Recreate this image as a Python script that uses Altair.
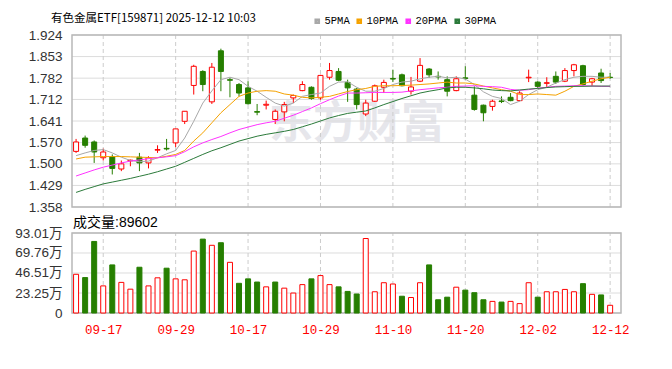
import altair as alt
import pandas as pd

TITLE = "有色金属ETF[159871] 2025-12-12 10:03"
WATERMARK = "东方财富"
VOL_LABEL = "成交量"
current_volume = 89602

dates = ["2025-09-12", "2025-09-15", "2025-09-16", "2025-09-17", "2025-09-18", "2025-09-19",
         "2025-09-22", "2025-09-23", "2025-09-24", "2025-09-25", "2025-09-26", "2025-09-29",
         "2025-09-30", "2025-10-09", "2025-10-10", "2025-10-13", "2025-10-14", "2025-10-15",
         "2025-10-16", "2025-10-17", "2025-10-20", "2025-10-21", "2025-10-22", "2025-10-23",
         "2025-10-24", "2025-10-27", "2025-10-28", "2025-10-29", "2025-10-30", "2025-10-31",
         "2025-11-03", "2025-11-04", "2025-11-05", "2025-11-06", "2025-11-07", "2025-11-10",
         "2025-11-11", "2025-11-12", "2025-11-13", "2025-11-14", "2025-11-17", "2025-11-18",
         "2025-11-19", "2025-11-20", "2025-11-21", "2025-11-24", "2025-11-25", "2025-11-26",
         "2025-11-27", "2025-11-28", "2025-12-01", "2025-12-02", "2025-12-03", "2025-12-04",
         "2025-12-05", "2025-12-08", "2025-12-09", "2025-12-10", "2025-12-11", "2025-12-12"]

opens = [1.541, 1.585, 1.572, 1.520, 1.524, 1.483, 1.510, 1.522, 1.503, 1.545,
         1.551, 1.569, 1.640, 1.758, 1.804, 1.704, 1.872, 1.777, 1.761, 1.750,
         1.672, 1.693, 1.646, 1.671, 1.717, 1.741, 1.752, 1.717, 1.785, 1.804,
         1.768, 1.746, 1.664, 1.706, 1.752, 1.781, 1.793, 1.739, 1.772, 1.812,
         1.788, 1.777, 1.741, 1.783, 1.726, 1.693, 1.689, 1.707, 1.719, 1.708,
         1.783, 1.769, 1.765, 1.788, 1.772, 1.807, 1.823, 1.769, 1.799, 1.785]
highs = [1.582, 1.593, 1.577, 1.550, 1.531, 1.511, 1.514, 1.536, 1.525, 1.561,
         1.582, 1.615, 1.673, 1.826, 1.808, 1.832, 1.879, 1.783, 1.766, 1.772,
         1.697, 1.708, 1.679, 1.704, 1.728, 1.772, 1.755, 1.793, 1.832, 1.815,
         1.777, 1.750, 1.711, 1.761, 1.777, 1.810, 1.797, 1.786, 1.848, 1.815,
         1.804, 1.788, 1.788, 1.821, 1.755, 1.695, 1.711, 1.722, 1.733, 1.739,
         1.810, 1.772, 1.785, 1.804, 1.815, 1.829, 1.826, 1.783, 1.813, 1.799]
lows = [1.536, 1.553, 1.503, 1.511, 1.465, 1.476, 1.492, 1.476, 1.485, 1.536,
        1.544, 1.555, 1.631, 1.728, 1.739, 1.697, 1.739, 1.719, 1.722, 1.695,
        1.660, 1.679, 1.631, 1.640, 1.700, 1.739, 1.711, 1.711, 1.777, 1.772,
        1.704, 1.679, 1.657, 1.704, 1.733, 1.769, 1.755, 1.728, 1.769, 1.783,
        1.777, 1.722, 1.739, 1.777, 1.675, 1.640, 1.675, 1.700, 1.706, 1.706,
        1.769, 1.750, 1.752, 1.763, 1.769, 1.788, 1.757, 1.757, 1.766, 1.780]
closes = [1.572, 1.561, 1.539, 1.539, 1.485, 1.500, 1.512, 1.503, 1.520, 1.547,
          1.549, 1.615, 1.673, 1.821, 1.761, 1.818, 1.804, 1.775, 1.733, 1.698,
          1.670, 1.696, 1.673, 1.695, 1.725, 1.761, 1.715, 1.791, 1.807, 1.775,
          1.750, 1.695, 1.700, 1.757, 1.768, 1.779, 1.757, 1.753, 1.824, 1.793,
          1.786, 1.739, 1.780, 1.781, 1.679, 1.668, 1.706, 1.705, 1.708, 1.733,
          1.785, 1.755, 1.767, 1.769, 1.807, 1.826, 1.761, 1.780, 1.774, 1.784]

# volume in 万 (10k shares); 1 = red (up) bar, 0 = green (down) bar
volumes = [45.0, 41.2, 83.2, 31.5, 55.9, 35.6, 27.7, 53.2, 31.5, 40.9,
           52.1, 39.7, 38.6, 72.0, 85.9, 78.7, 81.7, 58.9, 34.5, 39.7,
           36.0, 30.4, 36.0, 28.9, 23.2, 33.0, 39.7, 43.5, 33.0, 30.4,
           25.1, 22.1, 86.6, 24.7, 35.2, 33.7, 19.5, 18.0, 35.2, 55.9,
           15.4, 18.4, 30.0, 26.6, 23.6, 15.4, 13.5, 12.7, 13.5, 10.9,
           35.2, 18.4, 24.7, 24.7, 27.4, 24.7, 34.1, 21.7, 21.0, 8.96]
vol_up = [1, 0, 0, 1, 0, 1, 1, 0, 1, 1,
          0, 1, 1, 1, 0, 1, 0, 1, 0, 0,
          0, 1, 0, 1, 1, 1, 0, 1, 1, 0,
          0, 0, 1, 1, 1, 1, 0, 1, 1, 0,
          0, 0, 1, 0, 0, 0, 1, 0, 1, 1,
          1, 0, 1, 1, 1, 1, 0, 1, 0, 1]

ma5 = [1.527, 1.536, 1.544, 1.547, 1.536, 1.522, 1.511, 1.507, 1.509, 1.520,
       1.533, 1.544, 1.585, 1.640, 1.700, 1.740, 1.777, 1.785, 1.777, 1.755,
       1.739, 1.719, 1.700, 1.690, 1.700, 1.722, 1.728, 1.733, 1.755, 1.769,
       1.770, 1.752, 1.739, 1.739, 1.748, 1.761, 1.769, 1.772, 1.780, 1.785,
       1.788, 1.783, 1.785, 1.779, 1.761, 1.737, 1.722, 1.715, 1.695, 1.706,
       1.728, 1.744, 1.752, 1.766, 1.777, 1.785, 1.788, 1.788, 1.785, 1.785]
ma10 = [1.516, 1.522, 1.523, 1.524, 1.524, 1.524, 1.523, 1.522, 1.521, 1.520,
        1.525, 1.531, 1.544, 1.575, 1.602, 1.635, 1.668, 1.695, 1.722, 1.733,
        1.739, 1.741, 1.739, 1.730, 1.726, 1.719, 1.717, 1.719, 1.722, 1.730,
        1.738, 1.744, 1.748, 1.755, 1.757, 1.757, 1.758, 1.759, 1.761, 1.763,
        1.766, 1.769, 1.766, 1.766, 1.763, 1.756, 1.750, 1.744, 1.739, 1.728,
        1.728, 1.730, 1.728, 1.726, 1.739, 1.755, 1.763, 1.772, 1.780, 1.785]
ma20 = [1.460, 1.470, 1.480, 1.489, 1.496, 1.503, 1.509, 1.513, 1.517, 1.520,
        1.523, 1.527, 1.540, 1.556, 1.569, 1.580, 1.590, 1.602, 1.613, 1.621,
        1.629, 1.635, 1.640, 1.650, 1.660, 1.672, 1.684, 1.698, 1.711, 1.723,
        1.733, 1.733, 1.734, 1.735, 1.735, 1.735, 1.736, 1.740, 1.744, 1.747,
        1.750, 1.752, 1.755, 1.756, 1.757, 1.755, 1.754, 1.752, 1.745, 1.742,
        1.744, 1.749, 1.752, 1.755, 1.756, 1.757, 1.757, 1.756, 1.755, 1.755]
ma30 = [1.406, 1.416, 1.425, 1.434, 1.440, 1.446, 1.452, 1.459, 1.466, 1.474,
        1.483, 1.492, 1.505, 1.518, 1.531, 1.543, 1.553, 1.564, 1.575, 1.583,
        1.591, 1.597, 1.602, 1.607, 1.613, 1.622, 1.631, 1.641, 1.651, 1.659,
        1.666, 1.670, 1.674, 1.684, 1.695, 1.705, 1.715, 1.724, 1.733, 1.739,
        1.744, 1.750, 1.752, 1.752, 1.750, 1.747, 1.743, 1.741, 1.740, 1.743,
        1.746, 1.748, 1.751, 1.753, 1.754, 1.755, 1.755, 1.756, 1.756, 1.756]

ma_names = ["5PMA", "10PMA", "20PMA", "30PMA"]
ma_colors = ["#a8a8a8", "#f5a200", "#ff33ff", "#2b7a3a"]

price_ticks = [1.358, 1.429, 1.500, 1.570, 1.641, 1.712, 1.782, 1.853, 1.924]
vol_ticks = [0, 23.25, 46.51, 69.76, 93.01]
tick_idx = [3, 11, 19, 27, 35, 43, 51, 59]

RED = "#ff0000"
GREEN = "#267f00"
GRID = "#dcdcdc"
FRAME = "#b8b8b8"

# ---------------- layout helpers ----------------
W, H = 559, 278
X_DOMAIN = [-0.45, 60.2]
P_DOMAIN = [price_ticks[0], price_ticks[-1]]
V_DOMAIN = [vol_ticks[0], vol_ticks[-1]]
P_RANGE = [172, 0]
V_RANGE = [278, 198]

n = len(dates)
df = pd.DataFrame({
    "i": list(range(n)), "date": dates, "open": opens, "high": highs,
    "low": lows, "close": closes, "vol": volumes, "vup": vol_up,
})
df["dir"] = ["up" if c >= o else "down" for o, c in zip(opens, closes)]

ma_df = pd.concat([
    pd.DataFrame({"i": list(range(n)), "value": vals, "series": name})
    for name, vals in zip(ma_names, [ma5, ma10, ma20, ma30])
])

tick_labels = [dates[k][5:] for k in tick_idx]
ticks_df = pd.DataFrame({"i": tick_idx, "label": tick_labels,
                         "p0": P_DOMAIN[0], "p1": P_DOMAIN[1],
                         "v0": V_DOMAIN[0], "v1": V_DOMAIN[1]})
frame_df = pd.DataFrame({"x0": [X_DOMAIN[0]], "x1": [X_DOMAIN[1]],
                         "p0": [P_DOMAIN[0]], "p1": [P_DOMAIN[1]],
                         "v0": [V_DOMAIN[0]], "v1": [V_DOMAIN[1]],
                         "vlabel": [f"{VOL_LABEL}:{current_volume}"]})
ptick_df = pd.DataFrame({"x0": X_DOMAIN[0], "x1": X_DOMAIN[1], "p": price_ticks})
vtick_df = pd.DataFrame({"x0": X_DOMAIN[0], "x1": X_DOMAIN[1], "v": vol_ticks})

label_expr = ("[" + ",".join(f"'{s}'" for s in tick_labels) + "][indexof(["
              + ",".join(str(k) for k in tick_idx) + "], datum.value)]")

xscale = alt.Scale(domain=X_DOMAIN, nice=False, zero=False)
xaxis = alt.Axis(values=tick_idx, labelExpr=label_expr, grid=False, ticks=False,
                 domain=False, labelColor=RED, labelFont="Liberation Mono",
                 labelFontSize=12.5, labelPadding=10, labelFlush=False,
                 labelOverlap=False, title=None)


def X(field):
    return alt.X(f"{field}:Q", scale=xscale, axis=xaxis)


pscale = alt.Scale(domain=P_DOMAIN, range=P_RANGE, nice=False, zero=False)
vscale = alt.Scale(domain=V_DOMAIN, range=V_RANGE, nice=False, zero=False)

paxis = alt.Axis(values=price_ticks, format=".3f", orient="left", grid=False,
                 ticks=False, domain=False, labelFlush=False, labelOverlap=False,
                 labelFont="Liberation Sans", labelFontSize=13.5,
                 labelColor="#333333", labelPadding=5, title=None)
vaxis = alt.Axis(values=vol_ticks, orient="left", grid=False, ticks=False, domain=False,
                 labelFlush=False, labelOverlap=False,
                 labelExpr="datum.value == 0 ? '0' : format(datum.value, '.2f') + '万'",
                 labelFont="Liberation Sans, Noto Sans CJK SC", labelFontSize=13.5,
                 labelColor="#333333", labelPadding=5, title=None)


def YP(field, axis=None):
    return alt.Y(f"{field}:Q", scale=pscale, axis=axis)


def YV(field, axis=None):
    return alt.Y(f"{field}:Q", scale=vscale, axis=axis)


# ---------------- price panel ----------------
watermark = alt.Chart(alt.Data(values=[{"t": WATERMARK}])).mark_text(
    font="Noto Sans CJK SC", fontSize=44, fontWeight="bold", color="#e6e6eb",
    align="center", baseline="middle"
).encode(text="t:N", x=alt.value(290), y=alt.value(90))

p_hgrid = alt.Chart(ptick_df).mark_rule(color=GRID, strokeWidth=1).encode(
    x=X("x0"), x2="x1", y=YP("p", paxis))

p_vgrid = alt.Chart(ticks_df).mark_rule(color="#cccccc", strokeDash=[4, 3], strokeWidth=1).encode(
    x=X("i"), y=YP("p0"), y2="p1")

p_frame = alt.Chart(frame_df).mark_rect(fillOpacity=0, stroke=FRAME, strokeWidth=1.5).encode(
    x=X("x0"), x2="x1", y=YP("p0"), y2="p1")

base = alt.Chart(df)
wick_up = base.transform_filter("datum.dir == 'up'").mark_rule(color=RED, strokeWidth=1).encode(
    x=X("i"), y=YP("low"), y2="high")
wick_dn = base.transform_filter("datum.dir == 'down'").mark_rule(color=GREEN, strokeWidth=1).encode(
    x=X("i"), y=YP("low"), y2="high")
body_up = base.transform_filter("datum.dir == 'up'").mark_bar(
    size=5, fill="#ffffff", stroke=RED, strokeWidth=1).encode(
    x=X("i"), y=YP("open"), y2="close")
body_dn = base.transform_filter("datum.dir == 'down'").mark_bar(
    size=5, fill=GREEN, stroke=GREEN, strokeWidth=1).encode(
    x=X("i"), y=YP("open"), y2="close")

ma_lines = alt.Chart(ma_df).mark_line(strokeWidth=1).encode(
    x=X("i"), y=YP("value"),
    color=alt.Color("series:N",
                    scale=alt.Scale(domain=ma_names, range=ma_colors),
                    legend=alt.Legend(orient="none", legendX=245, legendY=-19,
                                      direction="horizontal", title=None,
                                      symbolType="square", symbolSize=9,
                                      symbolStrokeWidth=2.6, labelOffset=2,
                                      columnPadding=2,
                                      labelFont="Liberation Mono", labelFontSize=10.5,
                                      labelColor="#000000")),
    detail="series:N",
)

# ---------------- volume panel ----------------
v_hgrid = alt.Chart(vtick_df).mark_rule(color=GRID, strokeWidth=1).encode(
    x=X("x0"), x2="x1", y=YV("v", vaxis))
v_vgrid = alt.Chart(ticks_df).mark_rule(color="#cccccc", strokeDash=[4, 3], strokeWidth=1).encode(
    x=X("i"), y=YV("v0"), y2="v1")
v_frame = alt.Chart(frame_df).mark_rect(fillOpacity=0, stroke=FRAME, strokeWidth=1.5).encode(
    x=X("x0"), x2="x1", y=YV("v0"), y2="v1")
vol_up_bars = base.transform_filter("datum.vup == 1").mark_bar(
    size=5, fill="#ffffff", stroke=RED, strokeWidth=1).encode(x=X("i"), y=YV("vol"))
vol_dn_bars = base.transform_filter("datum.vup == 0").mark_bar(
    size=5, fill=GREEN, stroke=GREEN, strokeWidth=1).encode(x=X("i"), y=YV("vol"))
vol_text = alt.Chart(frame_df).mark_text(
    align="left", baseline="alphabetic", dx=1, dy=-6, fontSize=14,
    font="Liberation Sans, Noto Sans CJK SC", color="#000000"
).encode(x=X("x0"), y=YV("v1"), text="vlabel:N")

chart = alt.layer(
    watermark, p_hgrid, p_vgrid, p_frame, wick_up, wick_dn, body_up, body_dn, ma_lines,
    v_hgrid, v_vgrid, v_frame, vol_up_bars, vol_dn_bars, vol_text,
).resolve_scale(y="independent").properties(
    width=W, height=H,
    padding={"left": 67, "top": 35, "right": 46, "bottom": 56},
    autosize=alt.AutoSizeParams(type="none"),
    background="#ffffff",
    title=alt.TitleParams(TITLE, anchor="start", frame="group", dx=-16, dy=19, offset=10.5,
                          font="Noto Sans CJK SC", fontSize=11.5, fontWeight="normal",
                          color="#000000"),
).configure_view(stroke="transparent")

chart.save("out.html", embed_options={"renderer": "svg", "actions": False})
